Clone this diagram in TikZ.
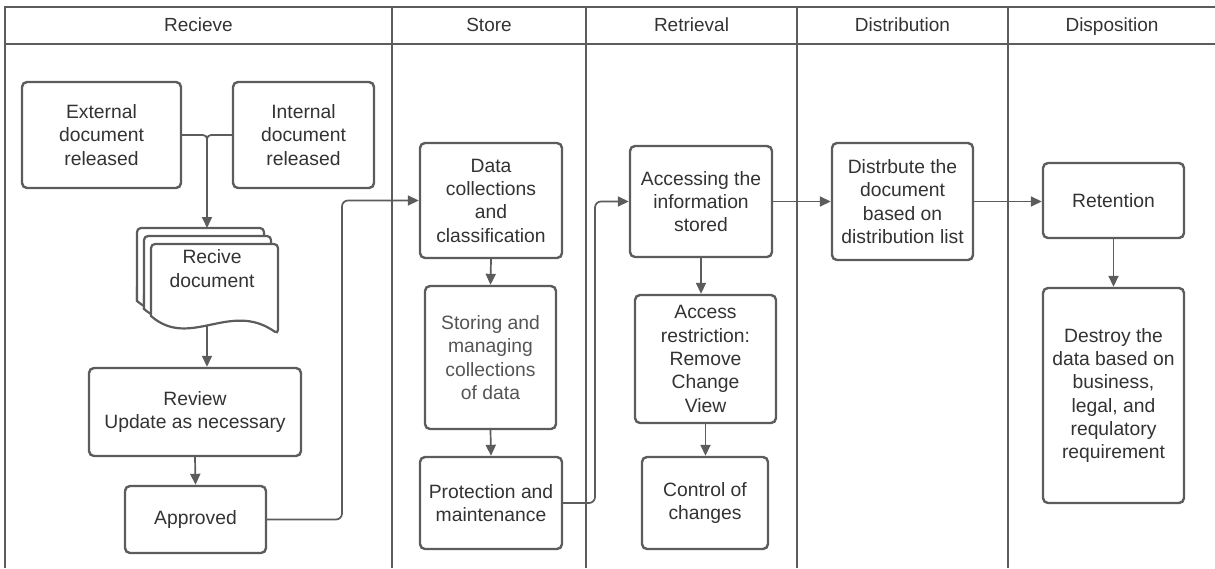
\documentclass[tikz,border=0pt]{standalone}
\usepackage{fontspec}
\setmainfont{Liberation Sans}
\usetikzlibrary{arrows.meta,calc}
\definecolor{ln}{HTML}{5C5C5C}
\definecolor{tx}{HTML}{333333}
\definecolor{txl}{HTML}{555555}
\begin{document}
\begin{tikzpicture}[x=1pt,y=-1pt,
  lane/.style={draw=ln,line width=2.2pt},
  title/.style={text=tx,inner sep=0pt,anchor=base,font=\fontsize{19}{23.3}\selectfont},
  box/.style={draw=ln,line width=2.4pt,rounded corners=5pt,fill=white,align=center,
    text=tx,inner sep=0pt,font=\fontsize{19.3}{23.3}\selectfont},
  conn/.style={draw=ln,line width=1.7pt,-{Triangle[length=11pt,width=10pt]}},
  plain/.style={draw=ln,line width=1.7pt},
  docshape/.style={draw=ln,line width=2.2pt,fill=white}]
\useasboundingbox (0,0) rectangle (1215,568);
% lanes
\draw[lane] (5,568) -- (5,7) -- (1216,7);
\draw[lane] (5,44) -- (1216,44);
\foreach \xx in {392,586,797,1008}{\draw[lane] (\xx,7) -- (\xx,568);}
\node[title] (l1) at (198.5,31) {Recieve};
\node[title] (l2) at (489,31) {Store};
\node[title] (l3) at (691.5,31) {Retrieval};
\node[title] (l4) at (902.5,31) {Distribution};
\node[title] (l5) at (1112,31) {Disposition};
% boxes
\node[box,minimum width=159pt,minimum height=106pt] (ext) at (101.5,135) {External\\document\\released};
\node[box,minimum width=141pt,minimum height=106pt] (int) at (303.5,135) {Internal\\document\\released};
\node[box,minimum width=212pt,minimum height=88pt] (rev) at (195,412) {Review\\Update as necessary};
\node[box,minimum width=141pt,minimum height=67pt] (app) at (195.5,519.5) {Approved};
\node[box,minimum width=142pt,minimum height=115pt] (data) at (491,200.5) {Data\\collections\\and\\classification};
\node[box,minimum width=131pt,minimum height=143pt,text=txl] (stor) at (490.5,357.5) {Storing and\\managing\\collections\\of data};
\node[box,minimum width=142pt,minimum height=92pt] (prot) at (491,503) {Protection and\\maintenance};
\node[box,minimum width=142pt,minimum height=111pt] (acc) at (701,201.5) {Accessing the\\information\\stored};
\node[box,minimum width=141pt,minimum height=128pt] (restr) at (705.5,359) {Access\\restriction:\\Remove\\Change\\View};
\node[box,minimum width=126pt,minimum height=92pt] (ctrl) at (705,503) {Control of\\changes};
\node[box,minimum width=141pt,minimum height=117pt] (dist) at (902.5,201.5) {Distrbute the\\document\\based on\\distribution list};
\node[box,minimum width=141pt,minimum height=75pt] (ret) at (1113.5,200.5) {Retention};
\node[box,minimum width=141pt,minimum height=215pt] (dest) at (1113.5,395.5) {Destroy the\\data based on\\business,\\legal, and\\requlatory\\requirement};
% multi-document shape
\foreach \ox/\oy in {137/228,144/236}{
  \draw[docshape] (\ox,\oy+73) .. controls (\ox+39,\oy+106) and (\ox+79,\oy+56) .. (\ox+127,\oy+90) -- (\ox+127,\oy+60) -- (\ox,\oy+60) -- cycle;
  \fill[white] (\ox+1.2,\oy+1.2) rectangle (\ox+125.8,\oy+72);
  \draw[ln,line width=2.2pt,rounded corners=4pt] (\ox,\oy+73) -- (\ox,\oy) -- (\ox+127,\oy) -- (\ox+127,\oy+90);
}
\path[docshape,rounded corners=4pt] (151,316) -- (151,244) -- (278,244) -- (278,334)
   [sharp corners] .. controls (230,300) and (190,350) .. (151,316) -- cycle;
\node[box,draw=none,fill=none] (doc) at (212,268.5) {Recive\\document};
\coordinate (doctop) at (207,228);
\coordinate (docbot) at (207,325);
\coordinate (j) at (207,170);
% connectors
\draw[plain,rounded corners=4pt] (int.west) -| (j);
\draw[conn,rounded corners=4pt] (ext.east) -| (doctop);
\draw[conn] (docbot) -- (docbot |- rev.north);
\draw[conn] (rev.south) -- (app.north);
\coordinate (c1) at (342,350);
\draw[conn,rounded corners=6pt] (app.east) -| (c1) |- (data.west);
\draw[conn] (data.south) -- (stor.north);
\draw[conn] (stor.south) -- (prot.north);
\coordinate (c2) at (595,350);
\draw[conn,rounded corners=6pt] (prot.east) -| (c2) |- (acc.west);
\draw[conn] (acc.south) -- (acc.south |- restr.north);
\draw[conn] (restr.south) -- (restr.south |- ctrl.north);
\draw[conn] (acc.east) -- (dist.west);
\draw[conn] (dist.east) -- (dist.east -| ret.west);
\draw[conn] (ret.south) -- (dest.north);
\end{tikzpicture}
\end{document}
